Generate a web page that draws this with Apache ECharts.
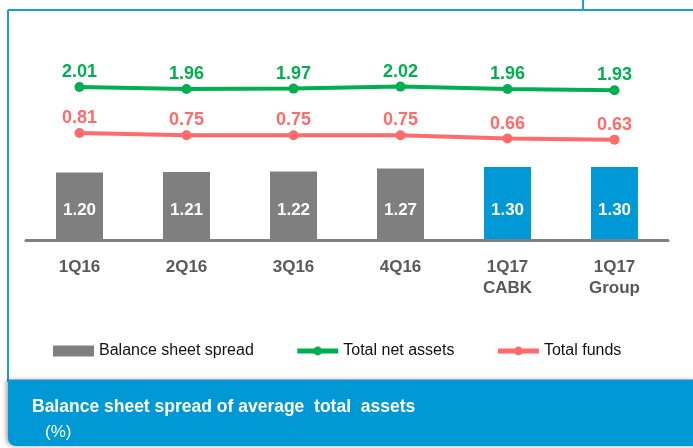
<!DOCTYPE html>
<html>
<head>
<meta charset="utf-8">
<script src="https://cdn.jsdelivr.net/npm/echarts@6/dist/echarts.min.js"></script>
<style>
  html, body { margin: 0; padding: 0; background: #fff; }
  #chart { width: 693px; height: 448px; }
</style>
</head>
<body>
<div id="chart"></div>
<script>
const categories = ["1Q16", "2Q16", "3Q16", "4Q16", "1Q17\nCABK", "1Q17\nGroup"];
const spreadValues = [1.2, 1.21, 1.22, 1.27, 1.3, 1.3];
const netAssetsValues = [2.01, 1.96, 1.97, 2.02, 1.96, 1.93];
const fundsValues = [0.81, 0.75, 0.75, 0.75, 0.66, 0.63];
// last two bars are highlighted in blue
const highlighted = [false, false, false, false, true, true];

const GRAY = "#7f7f7f";
const BLUE = "#0099d8";
const GREEN = "#00b050";
const RED = "#ff6b6b";

const chart = echarts.init(document.getElementById("chart"));

const fmt = (p) => p.value.toFixed(2);

chart.setOption({
  animation: false,
  textStyle: { fontFamily: "Liberation Sans" },
  grid: { left: 26, right: 25, top: 60, bottom: 208 },
  legend: {
    left: 48,
    top: 338,
    itemWidth: 41,
    itemHeight: 11,
    itemGap: 41,
    lineStyle: { width: 5 },
    textStyle: { fontSize: 16, color: "#111" },
    data: [
      { name: "Balance sheet spread", icon: "rect" },
      "Total net assets",
      "Total funds",
    ],
  },
  xAxis: {
    type: "category",
    data: categories,
    z: 5,
    axisTick: { show: false },
    axisLine: { lineStyle: { color: "#808080", width: 3 } },
    axisLabel: {
      color: "#595959",
      fontSize: 17,
      fontWeight: "bold",
      margin: 17,
      lineHeight: 21,
    },
  },
  yAxis: [
    { type: "value", min: 0, max: 3.2, show: false },
    { type: "value", min: -1.815, max: 2.685, show: false },
    { type: "value", min: -2.082, max: 2.783, show: false },
  ],
  series: [
    {
      name: "Balance sheet spread",
      type: "bar",
      yAxisIndex: 0,
      barWidth: 47,
      itemStyle: { color: GRAY },
      data: spreadValues.map((v, i) => ({
        value: v,
        itemStyle: { color: highlighted[i] ? BLUE : GRAY },
      })),
      label: {
        show: true,
        position: "insideBottom",
        distance: 21,
        color: "#fff",
        fontSize: 17,
        fontWeight: "bold",
        formatter: fmt,
      },
    },
    {
      name: "Total net assets",
      type: "line",
      yAxisIndex: 1,
      data: netAssetsValues,
      symbol: "circle",
      symbolSize: 10,
      lineStyle: { width: 4, color: GREEN },
      itemStyle: { color: GREEN },
      label: {
        show: true,
        position: "top",
        distance: 1,
        color: GREEN,
        fontSize: 18,
        fontWeight: "bold",
        formatter: fmt,
      },
    },
    {
      name: "Total funds",
      type: "line",
      yAxisIndex: 2,
      data: fundsValues,
      symbol: "circle",
      symbolSize: 10,
      lineStyle: { width: 4, color: RED },
      itemStyle: { color: RED },
      label: {
        show: true,
        position: "top",
        distance: 1,
        color: RED,
        fontSize: 18,
        fontWeight: "bold",
        formatter: fmt,
      },
    },
  ],
  graphic: [
    // frame
    { type: "line", shape: { x1: 8, y1: 10, x2: 693, y2: 10 }, style: { stroke: "#1a9fd8", lineWidth: 2 } },
    { type: "line", shape: { x1: 8, y1: 10, x2: 8, y2: 382 }, style: { stroke: "#1a9fd8", lineWidth: 2 } },
    { type: "line", shape: { x1: 583, y1: 0, x2: 583, y2: 10 }, style: { stroke: "#1a9fd8", lineWidth: 2 } },
    // footer band
    {
      type: "rect",
      shape: { x: 8, y: 380, width: 690, height: 66, r: [0, 0, 0, 8] },
      style: {
        fill: "#0099d6",
        shadowBlur: 4,
        shadowOffsetX: -2,
        shadowColor: "rgba(0,0,0,0.35)",
      },
    },
    { type: "line", shape: { x1: 8, y1: 380, x2: 693, y2: 380 }, style: { stroke: "#3a86c4", lineWidth: 1 } },
    {
      type: "text",
      x: 32,
      y: 407,
      style: {
        text: "Balance sheet spread of average  total  assets",
        fill: "#fff",
        font: "bold 17.5px 'Liberation Sans'",
        verticalAlign: "middle",
      },
    },
    {
      type: "text",
      x: 45,
      y: 432,
      style: {
        text: "(%)",
        fill: "#fff",
        font: "17px 'Liberation Sans'",
        verticalAlign: "middle",
      },
    },
  ],
});
</script>
</body>
</html>
